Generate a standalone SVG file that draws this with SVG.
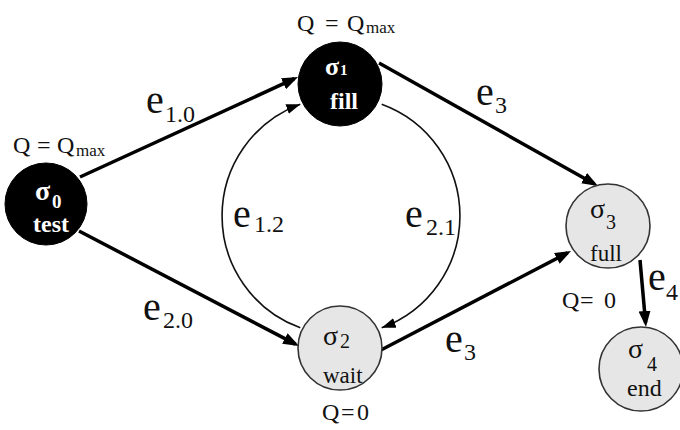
<svg xmlns="http://www.w3.org/2000/svg" width="680" height="430" viewBox="0 0 680 430">
<style>
text{font-family:"Liberation Serif","Times New Roman",serif;fill:#111}
.e{font-size:40px}
.s{font-size:24px}
.q{font-size:24px}
.qs{font-size:17px}
.w{fill:#fff;font-weight:bold}
.thick{stroke:#000;stroke-width:3.5;fill:none;marker-end:url(#big)}
.thin{stroke:#111;stroke-width:1.6;fill:none;marker-end:url(#small)}
.dark{fill:#000;stroke:#000}
.light{fill:#e6e6e6;stroke:#333;stroke-width:1.6}
</style>
<defs>
<marker id="big" markerUnits="userSpaceOnUse" markerWidth="18" markerHeight="14" refX="12" refY="6" orient="auto"><path d="M0,0 L16,6 L0,12 z" fill="#000"/></marker>
<marker id="small" markerUnits="userSpaceOnUse" markerWidth="16" markerHeight="12" refX="14" refY="5" orient="auto"><path d="M0,0 L14,5 L0,10 z" fill="#000"/></marker>
</defs>
<rect width="680" height="430" fill="#fff"/>
<g id="connectors">
<line class="thick" x1="80" y1="177" x2="294.4" y2="78.7"/>
<line class="thick" x1="79" y1="231" x2="295.5" y2="344.1"/>
<line class="thick" x1="379" y1="63" x2="594.5" y2="184"/>
<line class="thick" x1="381" y1="350" x2="567.5" y2="252.9"/>
<line class="thick" x1="640" y1="260" x2="645.6" y2="323"/>
<path class="thin" d="M300.3,327.8 A119,119 0 0 1 300.3,104.2"/>
<path class="thin" d="M381.7,104.2 A119,119 0 0 1 381.7,327.8"/>
</g>
<g id="edge-labels">
<text x="146" y="113" class="e">e</text><text x="165" y="122" class="s">1.0</text>
<text x="476" y="105" class="e">e</text><text x="495" y="113" class="s">3</text>
<text x="233" y="227" class="e">e</text><text x="254" y="232" class="s">1.2</text>
<text x="405" y="227" class="e">e</text><text x="426" y="235" class="s">2.1</text>
<text x="143" y="320" class="e">e</text><text x="163" y="328" class="s">2.0</text>
<text x="445" y="352" class="e">e</text><text x="464" y="360" class="s">3</text>
<text x="648" y="290" class="e">e</text><text x="666" y="300" class="s">4</text>
</g>
<g id="s0">
<circle class="dark" cx="46" cy="204" r="41"/>
<text x="35" y="200" class="w" font-size="28">σ</text><text x="52" y="208" class="w" font-size="19">0</text>
<text x="33" y="232" class="w" font-size="24">test</text>
<text x="13" y="153" class="q">Q</text><text x="37" y="153" class="q">=</text><text x="57" y="153" class="q">Q</text><text x="76" y="156" class="qs">max</text>
</g>
<g id="s1">
<circle class="dark" cx="340" cy="84" r="42"/>
<text x="325" y="75" class="w" font-size="26">σ</text><text x="340" y="75" class="w" font-size="15">1</text>
<text x="330" y="109" class="w" font-size="24">fill</text>
<text x="297" y="31" class="q">Q</text><text x="325" y="31" class="q">=</text><text x="347" y="31" class="q">Q</text><text x="366" y="33" class="qs">max</text>
</g>
<g id="s2">
<circle class="light" cx="340" cy="348" r="42"/>
<text x="323" y="345" font-size="28">σ</text><text x="340" y="348" font-size="20">2</text>
<text x="323" y="383" font-size="23">wait</text>
<text x="322" y="420" class="q">Q</text><text x="341" y="420" class="q">=</text><text x="357" y="420" class="q">0</text>
</g>
<g id="s3">
<circle class="light" cx="608" cy="226" r="42"/>
<text x="590" y="218" font-size="28">σ</text><text x="606" y="229" font-size="20">3</text>
<text x="590" y="261" font-size="23">full</text>
<text x="562" y="308" class="q">Q</text><text x="580" y="308" class="q">=</text><text x="604" y="308" class="q">0</text>
</g>
<g id="s4">
<circle class="light" cx="641" cy="369" r="42"/>
<text x="628" y="358" font-size="28">σ</text><text x="647" y="371" font-size="20">4</text>
<text x="627" y="396" font-size="24">end</text>
</g>
</svg>
